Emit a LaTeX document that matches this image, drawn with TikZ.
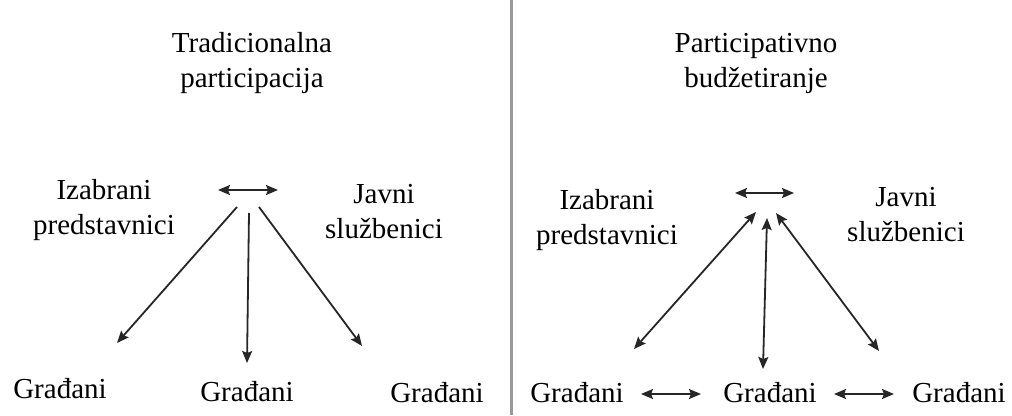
\documentclass[tikz,border=0pt]{standalone}
\usepackage{fontspec}
\setmainfont{Liberation Serif}
\usetikzlibrary{arrows.meta}
\begin{document}
\begin{tikzpicture}[x=1pt,y=-1pt,
  lbl/.style={inner sep=0pt,align=center,font=\fontsize{29}{35}\selectfont},
  tip/.tip={Stealth[length=12pt,width=10pt,inset=2pt]},
  conn/.style={line width=1.8pt,color=black!85,-tip},
  bconn/.style={line width=1.8pt,color=black!85,tip-tip}]
\useasboundingbox (0,0) rectangle (1012,415);
% divider
\coordinate (dtop) at (511,0);
\coordinate (dbot) at (511,415);
\draw[line width=3pt,color=black!40] (dtop) -- (dbot);
% left panel
\node[lbl] (t1) at (252,63) {Tradicionalna\\participacija};
\node[lbl] (i1) at (104,210) {Izabrani\\predstavnici};
\node[lbl] (j1) at (384,212) {Javni\\službenici};
\node[lbl] (g1a) at (60,389) {Građani};
\node[lbl] (g1b) at (247,392) {Građani};
\node[lbl] (g1c) at (437,393) {Građani};
\coordinate (h1l) at (218,190);
\coordinate (h1r) at (278,190);
\draw[bconn] (h1l) -- (h1r);
\coordinate (s1a) at (237,207);
\coordinate (s1b) at (249,213);
\coordinate (s1c) at (259,207);
\coordinate (e1a) at (117,343);
\coordinate (e1b) at (247,363);
\coordinate (e1c) at (362,346);
\draw[conn] (s1a) -- (e1a);
\draw[conn] (s1b) -- (e1b);
\draw[conn] (s1c) -- (e1c);
% right panel
\node[lbl] (t2) at (756,63) {Participativno\\budžetiranje};
\node[lbl] (i2) at (607,220) {Izabrani\\predstavnici};
\node[lbl] (j2) at (906,215) {Javni\\službenici};
\node[lbl] (g2a) at (577,393) {Građani};
\node[lbl] (g2b) at (770,393) {Građani};
\node[lbl] (g2c) at (959,393) {Građani};
\coordinate (h2l) at (735,193);
\coordinate (h2r) at (794,193);
\draw[bconn] (h2l) -- (h2r);
\coordinate (s2a) at (756,212);
\coordinate (s2b) at (767,218);
\coordinate (s2c) at (776,213);
\coordinate (e2a) at (634,349);
\coordinate (e2b) at (763,369);
\coordinate (e2c) at (879,351);
\draw[bconn] (e2a) -- (s2a);
\draw[bconn] (e2b) -- (s2b);
\draw[bconn] (e2c) -- (s2c);
\coordinate (a1l) at (641,394);
\coordinate (a1r) at (701,394);
\coordinate (a2l) at (834,394);
\coordinate (a2r) at (894,394);
\draw[bconn] (a1l) -- (a1r);
\draw[bconn] (a2l) -- (a2r);
\end{tikzpicture}
\end{document}
